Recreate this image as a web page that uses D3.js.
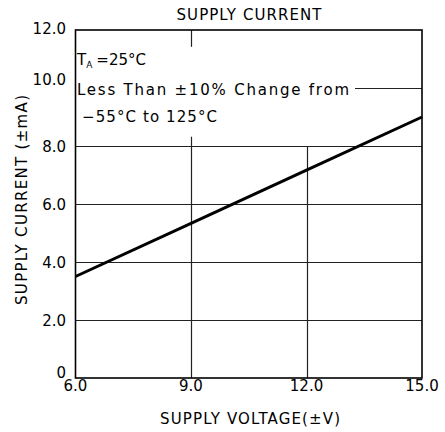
<!DOCTYPE html>
<meta charset="utf-8">
<style>
    body { margin: 0; background: #fff; }
    text { font-family: "DejaVu Sans", Arial, sans-serif; fill: #000; }
</style>
<body>
<script src="https://cdn.jsdelivr.net/npm/d3@7"></script>
<script>

    var width = 445,
        height = 432;

    // data
    var voltage = [6, 9, 12, 15];
    var current = [3.5, 5.33, 7.17, 9.0];
    var xTicks = [6, 9, 12, 15];
    var xTickLabels = ["6.0", "9.0", "12.0", "15.0"];
    var yTicks = [0, 2, 4, 6, 8, 10, 12];
    var yTickLabels = ["0", "2.0", "4.0", "6.0", "8.0", "10.0", "12.0"];

    var plotLeft = 75.5, plotRight = 422, plotTop = 30, plotBottom = 378;

    var x = d3.scaleLinear().domain([6, 15]).range([plotLeft, plotRight]);
    var y = d3.scaleLinear().domain([0, 12]).range([plotBottom, plotTop]);

    var svg = d3.select("body").append("svg")
        .attr("width", width)
        .attr("height", height);

    // grid lines (some are cut short by the annotation block)
    var hGrid = [
        {v: 2, from: 6, to: 15}, {v: 4, from: 6, to: 15},
        {v: 6, from: 6, to: 15}, {v: 8, from: 6, to: 15},
        {v: 10, from: 13.26, to: 15}
    ];
    var vGrid = [
        {v: 9, from: 12, to: 11.42}, {v: 9, from: 8.32, to: 0},
        {v: 12, from: 8, to: 0}
    ];

    svg.append("g").selectAll("line")
        .data(hGrid)
        .enter().append("line")
        .attr("x1", function(d) { return x(d.from); })
        .attr("x2", function(d) { return x(d.to); })
        .attr("y1", function(d) { return Math.round(y(d.v)) + 0.5; })
        .attr("y2", function(d) { return Math.round(y(d.v)) + 0.5; })
        .attr("stroke", "#222")
        .attr("stroke-width", 1.2);

    svg.append("g").selectAll("line")
        .data(vGrid)
        .enter().append("line")
        .attr("x1", function(d) { return Math.round(x(d.v)) + 0.5; })
        .attr("x2", function(d) { return Math.round(x(d.v)) + 0.5; })
        .attr("y1", function(d) { return y(d.from); })
        .attr("y2", function(d) { return y(d.to); })
        .attr("stroke", "#222")
        .attr("stroke-width", 1.2);

    // frame
    svg.append("rect")
        .attr("x", x(6))
        .attr("y", y(12))
        .attr("width", x(15) - x(6))
        .attr("height", y(0) - y(12))
        .attr("fill", "none")
        .attr("stroke", "#000")
        .attr("stroke-width", 1.6);

    // curve
    var line = d3.line()
        .x(function(d, i) { return x(voltage[i]); })
        .y(function(d) { return y(d); });

    svg.append("path")
        .datum(current)
        .attr("d", line)
        .attr("fill", "none")
        .attr("stroke", "#000")
        .attr("stroke-width", 3);

    // tick labels
    svg.append("g").selectAll("text")
        .data(xTicks)
        .enter().append("text")
        .attr("x", function(d) { return x(d); })
        .attr("y", y(0) + 13)
        .attr("text-anchor", "middle")
        .style("font-size", "15px")
        .text(function(d, i) { return xTickLabels[i]; });

    svg.append("g").selectAll("text")
        .data(yTicks)
        .enter().append("text")
        .attr("x", 66)
        .attr("y", function(d) {
            var yy = y(d) + 5.5;
            if (d === 10) yy -= 9;   // label sits above its line
            if (d === 12) yy -= 2;
            if (d === 0) yy -= 6;
            return yy;
        })
        .attr("text-anchor", "end")
        .style("font-size", "15px")
        .text(function(d, i) { return yTickLabels[i]; });

    // titles
    svg.append("text")
        .attr("x", 249).attr("y", 20)
        .attr("text-anchor", "middle")
        .attr("textLength", 145)
        .style("font-size", "15px")
        .text("SUPPLY CURRENT");

    svg.append("text")
        .attr("x", 250).attr("y", 424)
        .attr("text-anchor", "middle")
        .attr("textLength", 180)
        .style("font-size", "15px")
        .text("SUPPLY VOLTAGE(±V)");

    svg.append("text")
        .attr("transform", "translate(27,200) rotate(-90)")
        .attr("text-anchor", "middle")
        .attr("textLength", 210)
        .style("font-size", "15px")
        .text("SUPPLY CURRENT (±mA)");

    // annotation
    var ta = svg.append("text")
        .attr("x", 77).attr("y", 65)
        .style("font-size", "15px");
    ta.append("tspan").text("T");
    ta.append("tspan").attr("dy", 3).style("font-size", "9px").text("A");
    ta.append("tspan").attr("dy", -3).attr("dx", 4).text("=25°C");

    svg.append("text")
        .attr("x", 77).attr("y", 95)
        .attr("textLength", 272)
        .style("font-size", "15px")
        .text("Less Than  ±10%  Change  from");

    svg.append("text")
        .attr("x", 82).attr("y", 122)
        .attr("textLength", 135)
        .style("font-size", "15px")
        .text("−55°C  to  125°C");

</script>
</body>
